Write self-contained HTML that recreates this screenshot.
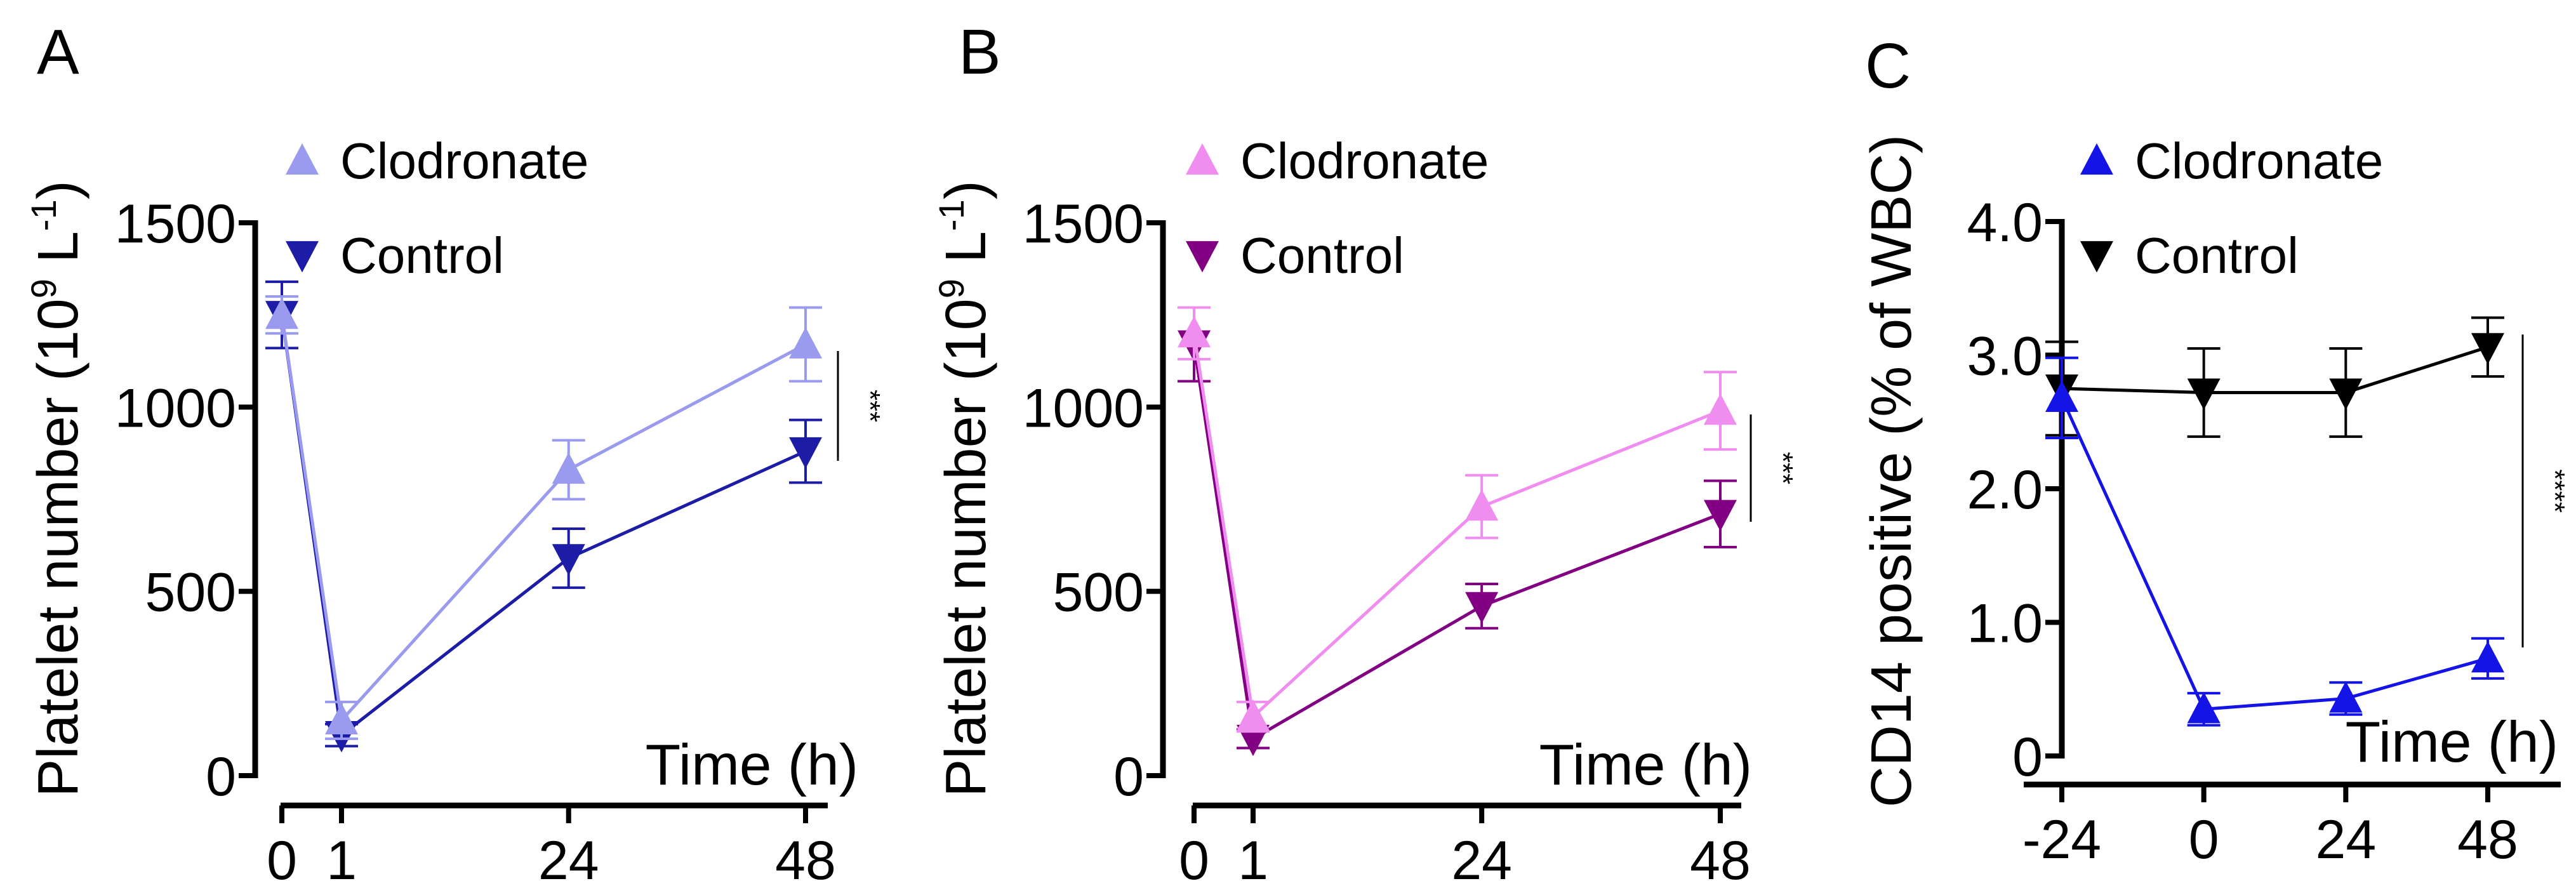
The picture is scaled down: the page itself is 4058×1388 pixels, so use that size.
<!DOCTYPE html>
<html><head><meta charset="utf-8">
<style>
html,body{margin:0;padding:0;background:#fff;}
svg{display:block;font-family:"Liberation Sans",Arial,sans-serif;}
</style></head>
<body>
<svg id="fig" width="4058" height="1388" viewBox="0 0 4058 1388" xmlns="http://www.w3.org/2000/svg"></svg>
<script>
// ---- Panel A data ----
const aTimes = [0, 1, 24, 48];
const aClod = [1250, 150, 830, 1170];
const aClodErr = [50, 50, 80, 100];
const aCtrl = [1250, 110, 590, 880];
const aCtrlErr = [90, 30, 80, 85];
const aYTicks = [0, 500, 1000, 1500];
// ---- Panel B data ----
const bTimes = [0, 1, 24, 48];
const bClod = [1200, 160, 730, 990];
const bClodErr = [70, 40, 85, 105];
const bCtrl = [1170, 100, 460, 710];
const bCtrlErr = [100, 25, 60, 90];
const bYTicks = [0, 500, 1000, 1500];
// ---- Panel C data ----
const cTimes = [-24, 0, 24, 48];
const cClod = [2.68, 0.35, 0.43, 0.73];
const cClodErr = [0.3, 0.12, 0.12, 0.15];
const cCtrl = [2.75, 2.72, 2.72, 3.06];
const cCtrlErr = [0.35, 0.33, 0.33, 0.22];
const cYTicks = [0, 1, 2, 3, 4];
const cYTickLabels = ["0", "1.0", "2.0", "3.0", "4.0"];
const abYTickLabels = ["0", "500", "1000", "1500"];

const NS = "http://www.w3.org/2000/svg";
const svg = document.getElementById("fig");
function mk(tag, attrs, parent) {
  const e = document.createElementNS(NS, tag);
  for (const k in attrs) e.setAttribute(k, attrs[k]);
  (parent || svg).appendChild(e);
  return e;
}

function panel(p) {
  const g = mk("g", {});
  
  
  const ys = v => p.y0 + (v - p.ymin) / (p.ymax - p.ymin) * (p.y1 - p.y0);
  const xs = p.xs;

  const L = mk("text", {x: p.letterX, y: p.letterY, "font-size": 100}, g);
  L.textContent = p.letter;
  
  

  const ya = mk("line", {x1: p.axX, x2: p.axX, y1: ys(p.ymax) - 4, y2: ys(p.ymin) + 4, stroke: "#000", "stroke-width": 9}, g);
  
  
  p.yTicks.forEach((t, i) => {
    const tk = mk("line", {x1: p.axX - 26, x2: p.axX, y1: ys(t), y2: ys(t), stroke: "#000", "stroke-width": 8}, g);
    
    
    const tl = mk("text", {x: p.axX - 30, y: ys(t) + 31, "font-size": 86, "text-anchor": "end"}, g);
    tl.textContent = p.yLabels[i];
    
    
  });

  const xa = mk("line", {x1: p.xaFrom, x2: p.xaTo, y1: p.xaY, y2: p.xaY, stroke: "#000", "stroke-width": 9}, g);
  
  
  p.times.forEach(t => {
    const X = xs(t);
    const tk = mk("line", {x1: X, x2: X, y1: p.xaY, y2: p.xaY + 28, stroke: "#000", "stroke-width": 8}, g);
    
    
    const tl = mk("text", {x: X, y: p.xaY + 116, "font-size": 86, "text-anchor": "middle"}, g);
    tl.textContent = String(t);
    
    
  });
  const xt = mk("text", {x: p.xtX, y: p.xtY, "font-size": 91, "text-anchor": "end"}, g);
  xt.textContent = "Time (h)";
  
  

  const yt = mk("text", {x: 0, y: 0, "font-size": 90, "text-anchor": "middle", transform: `translate(${p.ytX},${p.ytY}) rotate(-90)`}, g);
  yt.innerHTML = p.ytHTML;
  
  

  const tri = (X, Y, up, col, name) => {
    const s = 26;
    const pts = up ? `${X-s},${Y+s*0.85} ${X+s},${Y+s*0.85} ${X},${Y-s*1.05}` : `${X-s},${Y-s*0.85} ${X+s},${Y-s*0.85} ${X},${Y+s*1.05}`;
    const m = mk("polygon", {points: pts, fill: col}, g);
    
    
  };
  const series = (vals, errs, col, up, name) => {
    const pts = vals.map((v, i) => `${xs(p.times[i])},${ys(v)}`).join(" ");
    const ln = mk("polyline", {points: pts, fill: "none", stroke: col, "stroke-width": 5}, g);
    
    
    vals.forEach((v, i) => {
      const X = xs(p.times[i]);
      const e = errs[i];
      const eb = mk("path", {d: `M${X},${ys(v+e)}V${ys(v-e)}M${X-26},${ys(v+e)}H${X+26}M${X-26},${ys(v-e)}H${X+26}`, stroke: col, "stroke-width": 4, fill: "none"}, g);
      
      
      tri(X, ys(v), up, col, name + '-marker');
    });
  };
  series(p.ctrl, p.ctrlErr, p.ctrlCol, false, p.id + '-control');
  series(p.clod, p.clodErr, p.clodCol, true, p.id + '-clodronate');

  tri(p.legX, 253, true, p.clodCol, p.id + '-legend-clodronate-marker');
  tri(p.legX, 402, false, p.ctrlCol, p.id + '-legend-control-marker');
  const l1 = mk("text", {x: p.legX + 60, y: 281, "font-size": 80}, g);
  l1.textContent = "Clodronate";
  
  
  const l2 = mk("text", {x: p.legX + 60, y: 430, "font-size": 80}, g);
  l2.textContent = "Control";
  
  

  const sb = mk("line", {x1: p.sigX, x2: p.sigX, y1: p.sigY1, y2: p.sigY2, stroke: "#000", "stroke-width": 3}, g);
  
  
  const st = mk("text", {x: 0, y: 0, "font-size": 44, "text-anchor": "middle", transform: `translate(${p.sigX + 36},${(p.sigY1 + p.sigY2) / 2}) rotate(90)`}, g);
  st.textContent = p.stars;
  
  
}

function piece(x0, x1, x48) {
  return t => t <= 1 ? x0 + (x1 - x0) * t : x1 + (x48 - x1) * (t - 1) / 47;
}
const plateletTitle = 'Platelet number (10<tspan dy="-34" font-size="56">9</tspan><tspan dy="34"> L</tspan><tspan dy="-34" font-size="56">-1</tspan><tspan dy="34">)</tspan>';

panel({id: "a", letter: "A", letterX: 58, letterY: 116, ymin: 0, ymax: 1500, y0: 1222, y1: 351,
  axX: 402, yTicks: aYTicks, yLabels: abYTickLabels, times: aTimes, xs: piece(444, 538, 1269),
  xaFrom: 442, xaTo: 1304, xaY: 1269, xtX: 1352, xtY: 1236, ytX: 122, ytY: 770, ytHTML: plateletTitle,
  clod: aClod, clodErr: aClodErr, ctrl: aCtrl, ctrlErr: aCtrlErr, clodCol: "#9a9aee", ctrlCol: "#1c1ca6",
  legX: 476, sigX: 1320, sigY1: 553, sigY2: 726, stars: "***"});

panel({id: "b", letter: "B", letterX: 1510, letterY: 116, ymin: 0, ymax: 1500, y0: 1222, y1: 351,
  axX: 1832, yTicks: bYTicks, yLabels: abYTickLabels, times: bTimes, xs: piece(1881, 1974, 2710),
  xaFrom: 1879, xaTo: 2743, xaY: 1269, xtX: 2760, xtY: 1236, ytX: 1552, ytY: 770, ytHTML: plateletTitle,
  clod: bClod, clodErr: bClodErr, ctrl: bCtrl, ctrlErr: bCtrlErr, clodCol: "#f08ef0", ctrlCol: "#820082",
  legX: 1894, sigX: 2758, sigY1: 653, sigY2: 822, stars: "***"});

panel({id: "c", letter: "C", letterX: 2938, letterY: 138, ymin: 0, ymax: 4, y0: 1191, y1: 349,
  axX: 3248, yTicks: cYTicks, yLabels: cYTickLabels, times: cTimes, xs: t => 3248 + (t + 24) * (3919 - 3248) / 72,
  xaFrom: 3188, xaTo: 4034, xaY: 1236, xtX: 4030, xtY: 1200, ytX: 3010, ytY: 742, ytHTML: 'CD14 positive (% of  WBC)',
  clod: cClod, clodErr: cClodErr, ctrl: cCtrl, ctrlErr: cCtrlErr, clodCol: "#1414e6", ctrlCol: "#000000",
  legX: 3303, sigX: 3974, sigY1: 527, sigY2: 1020, stars: "****"});
</script>
</body></html>
